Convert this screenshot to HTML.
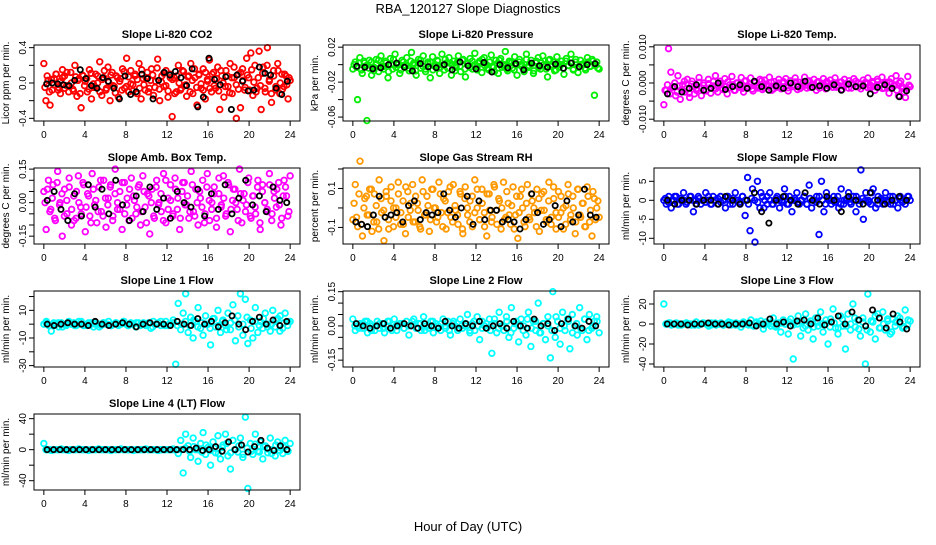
<!DOCTYPE html>
<html><head><meta charset="utf-8"><style>
body{margin:0;background:#fff;}
svg text{font-family:"Liberation Sans",sans-serif;}
</style></head><body>
<svg id="c" width="936" height="540" xmlns="http://www.w3.org/2000/svg">
<text x="468" y="13" font-size="13" text-anchor="middle">RBA_120127  Slope Diagnostics</text>
<text x="468" y="531" font-size="13" text-anchor="middle">Hour of Day (UTC)</text>
</svg>
<script>
const xTicks=[0,4,8,12,16,20,24];
const co2Vals=[22,-20,3,-25,-8,5,10,-5,-12,15,8,-3,-10,12,-7,20,-15,5,-28,8,2,-10,15,-18,-5,10,0,24,-14,6,-8,18,-20,12,-4,8,-16,5,16,-6,28,-10,14,-2,8,-12,22,-18,5,-8,12,-6,16,-14,2,27,-20,8,-4,14,-16,10,-38,6,-10,20,-8,14,-3,-15,8,22,-12,6,-25,10,-6,16,-18,4,26,-10,12,-6,18,-30,8,-16,14,-4,22,-12,6,-40,10,-28,16,-8,28,6,34,-14,20,-6,36,-30,18,-10,40,4,-22,14,-8,22,-12,10,-4,8,-18,3];
const co2Vals2=[-5,8,-10,4,-2,10,-8,2,6,-6,12,-4,0,-9,7,3,-12,9,-3,5,-7,11,-1,-5,8,-10,4,14,-6,1,9,-3,-11,6,2,-8,13,-4,7,-1,-9,10,4,-6,15,-2,6,-10,3,9,-5,17,-7,1,11,-3,-9,6,4,-12,8,0,-6,13,-2,7,-10,3,16,-5,9,-1,-8,12,2,-6,10,-3,5,-9,14,0,-4,8,-11,6,18,-2,-7,12,3,-5,9,-8,15,1,-10,6,-3,11,-6,20,2,-12,8,-4,14,0,-7,10,-2,6];
const co2Black=[-1,0,-1,-2,-3,3,15,5,-3,-6,6,2,-6,-18,8,-13,-10,10,5,-18,3,12,9,13,6,-3,16,-27,-16,28,4,-2,7,-30,9,2,-9,-8,18,11,9,-6,-13,2];
const presVals=[-5,3,-40,8,-10,2,-64,5,-12,-3,6,-8,10,-2,4,-15,7,-5,12,0,-10,5,-3,8,-7,14,2,-12,6,-4,10,-8,3,-15,9,-2,5,-10,12,-6,2,8,-12,4,-3,10,-8,6,-14,2,7,-5,13,-2,4,-9,8,0,-6,11,-3,5,-10,7,-1,15,-7,3,-4,9,-12,6,0,-8,12,-3,5,-10,2,8,-5,10,-2,-14,6,0,-7,9,-3,4,-11,7,-1,12,-6,3,-9,5,0,-4,8,-2,6,-35,3,-5];
const presVals2=[0,-3,2,-6,4,-1,-4,3,-7,1,5,-2,-5,2,-8,0,6,-3,1,-6,3,-1,-4,4,0,-7,2,5,-2,-5,1,3,-6,0,4,-3,-1,6,-4,2,0,-7,3,-2,5,-5,1,-3,4,0,-6,2,6,-1,-4,3,-2,-8,1,5,-3,0,-5,4,2,-6,0,3,-2,-4,6,-1,1,-7,4,-3,2,0,-5,5,-2,3,-6,1,0,-4,4,-1,2,-5,6,-3,0,1,-6,3,-2,4,-1,-4];
const presBlack=[-3,-5,-8,-6,0,3,-5,-12,2,-4,-6,0,-10,5,-2,-8,4,-14,0,-6,2,-10,3,-2,-5,1,-7,3,-4,0,2];
const tempVals=[-60,-20,95,30,-10,-35,20,-45,-5,-25,10,-40,5,-30,-15,15,-35,0,-20,10,-28,-8,20,-25,5,-15,12,-30,-5,18,-20,0,-12,15,-25,6,-10,14,-22,2,-14,10,-18,8,-8,16,-20,4,-12,10,-16,0,12,-22,6,-10,14,-18,2,-8,16,-14,6,-12,10,-20,4,-6,12,-16,0,8,-12,14,-8,2,-18,10,-4,6,-14,12,-10,0,-16,8,-2,14,-12,4,-20,10,-6,16,-14,2,-28,12,-8,20,-35,5,-15,-40,18,-10];
const tempVals2=[-20,-5,-30,-12,0,-25,-8,-18,5,-15,-28,-3,-10,-20,2,-14,-6,-22,-2,-12,4,-16,-8,-1,-18,-10,3,-13,-5,-20,0,-9,-15,5,-11,-4,-17,1,-7,-12,6,-14,-3,-9,2,-16,-6,0,-11,4,-8,-13,-1,-5,3,-10,-15,0,-6,5,-12,-3,-8,2,-14,-1,-6,4,-10,-4,1,-12,-7,3,-9,-2,-14,0,-5,5,-11,-3,-8,2,-13,-6,0,-10,4,-4,-15,-1,-8,3,-12,-5,-20,0,-9,-25,-14,-6];
const tempBlack=[-30,-10,-25,-15,-5,-20,-15,0,-18,-10,-5,-15,5,-10,-20,-8,-15,0,-10,5,-12,-8,-15,-5,-20,-3,-10,-8,-30,-12,-5,-15,-38,-22];
const ambVals=[5,-12,10,-3,8,-8,14,0,-15,6,-5,11,-10,3,-7,12,-2,9,-13,4,-6,13,-1,-9,7,-4,10,-11,2,8,-6,15,-3,5,-12,9,-1,-8,11,3,-5,7,-10,12,-2,4,-14,6,-7,10,0,-4,13,-9,2,8,-6,11,-3,-12,5,9,-1,-7,14,-4,6,-10,2,10,-5,13,-8,0,7,-11,4,-2,12,-6,9,-13,1,6,-3,15,-9,4,-1,11,-7,3,-5,10,-12,8,0,-4,13,-8,5,-2,9,-10,3,7,-6,12];
const ambVals2=[0,6,-4,2,-7,9,-1,4,-6,1,7,-3,-8,5,0,-5,8,-2,3,-9,6,1,-4,10,-6,2,-1,7,-8,4,0,-3,9,-5,2,6,-7,1,-2,8,-4,5,-9,3,0,-6,7,-1,4,-8,10,-3,1,-5,6,2,-7,9,-1,3,-4,8,-6,0,5,-2,-9,7,1,-3,4,-7,11,-1,2,-5,8,-3,6,0,-8,4,1,-4,9,-6,3,-2,7,-9,5,0,-3,8,-5,2,6,-1,-7,10,3,-4];
const ambBlack=[1,5,-3,-8,4,-6,8,-2,6,-5,10,-1,-8,3,-4,7,-3,2,-7,5,0,-2,6,-6,4,-3,8,-5,2,10,-1,3,-4,7,1,0];
const rhVals=[-5,10,-8,20,-12,4,-3,8,-10,6,-6,12,-2,-14,5,-9,9,0,-4,11,-7,3,-11,7,-1,10,-6,2,-8,12,-3,5,-10,8,0,-6,11,-2,4,-9,7,-4,10,-1,-7,6,-11,9,-3,3,-8,12,0,-5,8,-2,-12,6,-6,10,-1,4,-9,11,-4,2,-7,9,-3,-13,5,0,-8,10,-5,3,-2,8,-10,6,-1,-6,11,-4,4,-9,7,-2,0,-7,10,-5,5,-11,8,-3,2,-8,9,-6,-12,4,0,-4];
const rhVals2=[2,-4,6,-7,0,5,-3,8,-6,1,-9,4,-1,7,-5,3,-8,0,6,-2,-7,9,-4,2,-6,5,-1,-9,7,-3,1,-5,8,0,-4,6,-8,3,-2,9,-6,1,-3,7,-9,4,0,-6,5,-2,8,-5,2,-8,6,-1,-4,9,-7,3,0,-5,7,-3,1,-9,5,-2,8,-6,2,-4,6,0,-8,4,-1,7,-5,3,-7,9,-2,-4,5,-9,1,6,-3,0,-6,8,-4,2,-8,5,-1,7,-5,3];
const rhBlack=[-6,-7,-8,-3,5,-4,-3,-2,-6,1,3,-5,-2,-3,-2,6,-1,-4,0,5,-7,3,-5,-1,-1,-6,-5,-6,-9,-5,6,-2,-7,-5,1,-8,3,-6,-3,8,-3,-4];
const sfVals=[0,-1,1,-2,0,1,-1,0,2,-1,0,1,-3,0,1,-1,0,2,0,-1,1,0,-1,1,0,-2,1,0,-1,2,0,-1,1,-4,6,-8,3,-11,5,-2,1,0,-1,2,-1,0,1,-2,0,3,-1,1,-3,0,2,-1,0,1,-1,4,-2,0,1,-9,5,-3,2,0,-1,1,0,-2,3,-1,0,2,-1,1,-3,0,8,-5,2,0,-1,3,-2,1,0,-1,2,0,-1,1,0,-2,1,0,-1,1,0];
const sfVals2=[0.5,-0.5,0,1,-1,0.5,0,-0.5,1,0,-1,0.5,0,-0.5,1,-1,0,0.5,-0.5,0,1,-1,0.5,0,-0.5,1,0,-1,0.5,0,-0.5,2,-2,1,0,-1,0.5,0,-0.5,1,-1,0,0.5,-0.5,0,1,-1,0.5,0,-0.5,1,0,-1,0.5,0,-0.5,1,-1,0,0.5,-0.5,0,1,-1,0.5,0,-0.5,2,0,-1,0.5,0,-0.5,1,-1,0,0.5,-0.5,0,1];
const sfBlack=[0,-1,0,0,-1,0,0,-1,1,0,-1,0,2,-3,-6,0,1,0,-1,2,0,-1,1,0,-3,1,0,-1,2,0,-1,0,1,0];
const l1Vals=[0,2,-1,-5,1,0,-2,1,0,-1,2,0,1,-1,0,2,-1,0,1,0,-2,1,0,-1,1,0,2,-1,0,1,-1,0,2,0,-1,1,0,-2,1,0,1,-1,0,-3,2,0,1,-1,0,2,-1,0,3,-29,15,-4,8,22,-6,5,-10,2,12,-3,-8,6,0,-15,4,-2,10,-6,3,-1,8,-4,14,-12,6,22,-8,18,-14,3,-10,12,-6,2,-3,8,0,-5,10,-2,4,6,-3,8,-1,2];
const l1Vals2=[1,-1,0,1,-2,0,1,-1,2,0,-1,1,0,-2,1,0,-1,1,0,2,-1,0,1,-1,0,1,-2,0,2,-1,0,1,-1,0,2,-1,3,-2,1,0,-3,4,-1,2,-4,1,3,-2,0,5,-3,2,-1,4,-2,0,3,-5,1,2];
const l1Black=[0,-1,0,1,0,0,-1,2,0,-1,0,1,0,-2,0,1,0,0,-1,2,0,-1,4,0,2,-2,1,6,0,-4,2,5,0,3,-1,2];
const l2Vals=[3,-2,0,1,-1,2,-3,1,0,-2,2,-1,1,-3,0,2,-1,3,-2,0,1,-1,2,-4,0,3,-1,1,-2,4,0,-1,2,-3,1,0,-2,3,-1,2,-4,1,0,-2,3,-1,0,5,-3,1,-2,4,-6,2,0,-1,3,-12,1,-3,6,0,-2,4,-5,8,-1,2,-7,3,0,-4,6,-9,2,-2,10,-3,1,-6,4,-14,15,-5,2,-8,6,-2,3,-10,5,0,-4,8,-2,3,-6,5,-1,2,4,-3];
const l2Vals2=[0,-1,1,2,-2,0,1,-1,2,-2,0,1,-1,0,2,-1,1,-2,0,2,-1,1,0,-2,2,-1,0,1,-2,2,0,-1,1,-2,3,-1,0,2,-3,1,0,-2,3,-1,2,-3,1,0,-2,4,-1,0,2,-3,1,-1,3,-2,0,2];
const l2Black=[1,0,-1,0,1,-1,0,1,0,-1,1,0,-1,2,0,-1,1,0,2,-1,0,1,-1,2,0,-1,3,0,1,-2,1,3,0,-1,2,0];
const l3Vals=[20,0,1,-1,0,1,0,-1,0,1,0,-1,0,2,-1,0,1,0,-2,1,0,-1,0,1,-1,0,2,-1,0,1,0,-3,2,0,-1,4,-2,1,0,3,-5,2,0,-2,6,-3,1,-8,4,0,-10,5,-35,2,8,-12,-4,10,-6,3,-15,6,-2,12,-8,0,-20,5,15,-4,-10,8,-2,-25,10,-6,20,-3,4,-12,6,-40,30,-8,2,-15,10,-4,12,-6,3,-10,5,-2,8,0,-4,14,-1,3];
const l3Vals2=[0,1,0,-1,0,1,0,-1,0,1,0,-1,1,0,-1,0,1,-1,0,1,0,-1,2,0,-1,1,0,-2,1,0,2,-1,0,3,-2,1,-3,2,0,4,-3,1,-4,5,-2,0,6,-5,2,-6,3,8,-4,0,5,-8,2,6,-3,4];
const l3Black=[0,0,0,-1,0,0,1,0,0,-1,0,0,1,-2,0,5,0,2,-2,3,4,0,6,-1,2,8,0,12,4,-2,14,6,-4,10,2,-5];
const l4Vals=[8,0,0,-1,0,0,0,1,0,0,-1,0,0,0,1,0,0,0,-1,0,0,0,1,0,0,0,0,-1,0,0,0,1,0,0,0,0,-1,0,0,0,0,1,0,0,0,0,-1,0,0,0,0,0,1,0,-5,12,-30,20,5,-10,15,0,-15,8,22,-6,3,-20,10,-4,18,-12,6,20,-8,-25,12,0,-3,15,-10,42,-50,8,-6,20,-2,10,-12,5,-4,15,0,-8,10,3,-5,12,-2,8];
const l4Vals2=[0,0,0,0,0,0,0,0,0,0,0,0,0,0,0,0,0,0,0,0,0,0,0,0,0,0,0,0,0,0,0,0,0,0,2,-2,4,0,-3,6,-1,2,-5,3,8,-4,0,5,-6,2,-2,7,-3,4,1,-5,6,-1,3,-2];
const l4Black=[0,0,0,0,0,0,0,0,0,0,0,0,0,0,0,0,0,0,0,0,0,0,0,2,-1,0,4,-2,10,0,6,-3,4,12,2,-1,5,0];

const NS='http://www.w3.org/2000/svg';
const svg=document.getElementById('c');
const colX=[34,343,654], rowY=[45,168,291,414], W=266, H=76;
function mk(t,a,p){const e=document.createElementNS(NS,t);for(const k in a)e.setAttribute(k,a[k]);(p||svg).appendChild(e);return e;}
const panels=[
 {c:0,r:0,t:'Slope Li-820 CO2',yl:'Licor ppm per min.',lim:[-0.43,0.43],tk:[-0.4,-0.2,0,0.2,0.4],lb:['-0.4','','0.0','','0.4'],col:'#ff0000',s:0.01,v:co2Vals,v2:co2Vals2,b:co2Black},
 {c:1,r:0,t:'Slope Li-820 Pressure',yl:'kPa per min.',lim:[-0.0645,0.0225],tk:[-0.06,-0.04,-0.02,0,0.02],lb:['-0.06','','-0.02','','0.02'],col:'#00ee00',s:0.001,v:presVals,v2:presVals2,b:presBlack,sv:0.6},
 {c:2,r:0,t:'Slope Li-820 Temp.',yl:'degrees C per min.',lim:[-0.0105,0.0105],tk:[-0.01,-0.005,0,0.005,0.01],lb:['-0.010','','0.000','','0.010'],col:'#ff00ff',s:0.0001,v:tempVals,v2:tempVals2,b:tempBlack},
 {c:0,r:1,t:'Slope Amb. Box Temp.',yl:'degrees C per min.',lim:[-0.185,0.155],tk:[-0.15,-0.1,-0.05,0,0.05,0.1,0.15],lb:['-0.15','','','0.00','','','0.15'],col:'#ff00ff',s:0.01,v:ambVals,v2:ambVals2,b:ambBlack},
 {c:1,r:1,t:'Slope Gas Stream RH',yl:'percent per min.',lim:[-0.185,0.205],tk:[-0.1,0,0.1,0.2],lb:['-0.1','','0.1',''],col:'#ff9900',s:0.012,v:rhVals,v2:rhVals2,b:rhBlack},
 {c:2,r:1,t:'Slope Sample Flow',yl:'ml/min per min.',lim:[-11.5,8.5],tk:[-10,-5,0,5],lb:['-10','-5','0','5'],col:'#0000ff',s:1,v:sfVals,v2:sfVals2,b:sfBlack},
 {c:0,r:2,t:'Slope Line 1 Flow',yl:'ml/min per min.',lim:[-31,24],tk:[-30,-20,-10,0,10,20],lb:['-30','','-10','','10',''],col:'#00ffff',s:1,v:l1Vals,v2:l1Vals2,b:l1Black},
 {c:1,r:2,t:'Slope Line 2 Flow',yl:'ml/min per min.',lim:[-0.18,0.153],tk:[-0.15,-0.1,-0.05,0,0.05,0.1,0.15],lb:['-0.15','','','0.00','','','0.15'],col:'#00ffff',s:0.01,v:l2Vals,v2:l2Vals2,b:l2Black},
 {c:2,r:2,t:'Slope Line 3 Flow',yl:'ml/min per min.',lim:[-43,33],tk:[-40,-20,0,20],lb:['-40','-20','0','20'],col:'#00ffff',s:1,v:l3Vals,v2:l3Vals2,b:l3Black},
 {c:0,r:3,t:'Slope Line 4 (LT) Flow',yl:'ml/min per min.',lim:[-52,46],tk:[-40,-20,0,20,40],lb:['-40','','0','','40'],col:'#00ffff',s:1,v:l4Vals,v2:l4Vals2,b:l4Black}
];
panels.forEach((p,pi)=>{
 const x0=colX[p.c], y0=rowY[p.r];
 const g=mk('g',{});
 
 
 const xs=h=>x0+W*(h+0.96)/25.92;
 const ys=v=>y0+H*(p.lim[1]-v)/(p.lim[1]-p.lim[0]);
 const tt=mk('text',{x:x0+W/2,y:y0-7,'font-size':11,'font-weight':'bold','text-anchor':'middle'},g);tt.textContent=p.t;
 
 
 const yt=mk('text',{transform:`translate(${x0-25},${y0+H/2}) rotate(-90)`,'font-size':10,'text-anchor':'middle'},g);yt.textContent=p.yl;
 
 
 const clip=mk('g',{},g);
 const m2=p.v2.length;
 p.v2.forEach((v,i)=>{const c=mk('circle',{cx:xs(24*(i+0.5)/m2),cy:ys(v*p.s),r:2.8,fill:'none',stroke:p.col,'stroke-width':1.8},clip);
  
  });
 const m=p.v.length;
 p.v.forEach((v,i)=>{const c=mk('circle',{cx:xs(24*i/(m-1)),cy:ys(v*p.s),r:2.8,fill:'none',stroke:p.col,'stroke-width':1.8},clip);
  
  });
 const n=p.b.length;
 p.b.forEach((v,i)=>{const c=mk('circle',{cx:xs(24*(i+0.5)/n),cy:ys(v*p.s*(p.sv||1)),r:2.6,fill:'none',stroke:'#000','stroke-width':1.8},clip);
  
  });
 const bx=mk('rect',{x:x0,y:y0,width:W,height:H,fill:'none',stroke:'#000','stroke-width':1},g);
 
 
 xTicks.forEach(h=>{mk('line',{x1:xs(h),x2:xs(h),y1:y0+H,y2:y0+H+5,stroke:'#000'},g);
  const t=mk('text',{x:xs(h),y:y0+H+17,'font-size':10,'text-anchor':'middle'},g);t.textContent=h;
  
  });
 p.tk.forEach((v,i)=>{mk('line',{x1:x0-5,x2:x0,y1:ys(v),y2:ys(v),stroke:'#000'},g);
  if(p.lb[i]){const t=mk('text',{transform:`translate(${x0-8},${ys(v)}) rotate(-90)`,'font-size':10,'text-anchor':'middle'},g);t.textContent=p.lb[i];
  
  }});
});
</script>
</body></html>
